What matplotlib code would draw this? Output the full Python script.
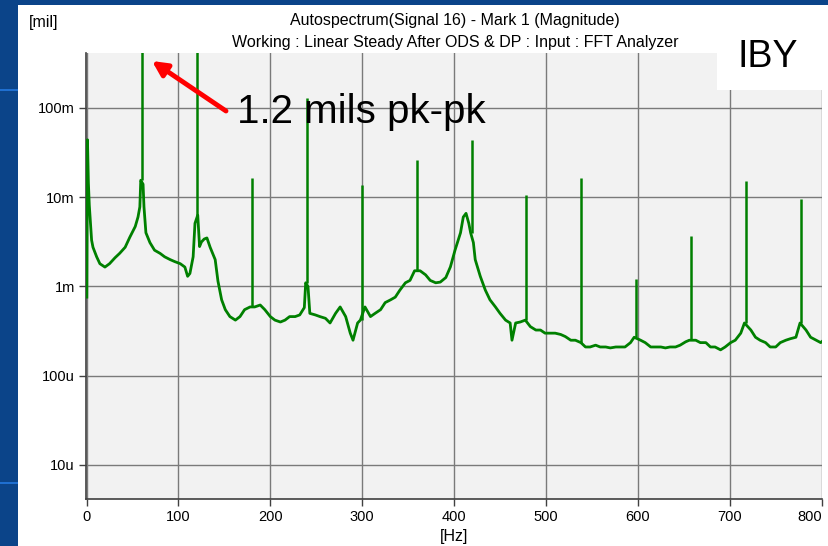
import numpy as np
import matplotlib
matplotlib.use('Agg')
import matplotlib.pyplot as plt
from matplotlib.patches import Rectangle, FancyArrowPatch

plt.rcParams['font.family'] = ['Liberation Sans', 'DejaVu Sans']

# ---- data ----
base_freq = [0.3, 1.0, 2.0, 3, 4, 5.5, 7, 11, 14.5, 20, 25, 31, 36, 42, 47, 53, 56, 58, 59,
             61.5, 62.5, 64.6, 69, 74, 80, 85, 91, 96, 102, 107, 110, 112.5, 116, 118,
             121, 123, 125, 128, 131, 134.5, 140, 143, 147, 151, 156, 162, 167, 172, 178,
             183, 189, 194, 200, 205, 211, 216, 221, 227, 232, 237, 238.5, 241, 243, 249,
             254, 260, 265, 271, 276, 282, 287, 290, 295, 298, 303, 309, 314, 320, 325,
             331, 336, 341, 347, 352, 357, 363, 369, 374, 380, 385, 391, 396, 401, 407,
             410, 413, 416, 418, 421, 423, 428.5, 434, 439, 445, 450, 456, 461, 463, 467,
             472, 477.5, 483, 489, 494, 499, 505, 510, 516, 521, 527, 532, 538, 543, 548,
             554, 559, 565, 570, 576, 581, 586, 592, 596, 603, 608, 614, 619, 625, 630,
             635, 641, 646, 652, 656, 663, 668, 674, 679, 684, 690, 695, 701, 706, 712,
             716, 723, 728, 733, 739, 744, 750, 755, 761, 766, 772, 776.5, 783, 788, 794,
             799, 802]
base_mag = [7.6e-4, 4.4e-2, 1.45e-2, 8.1e-3, 5.6e-3, 3.3e-3, 2.75e-3, 2.15e-3, 1.8e-3, 1.65e-3,
            1.8e-3, 2.1e-3, 2.35e-3, 2.75e-3, 3.55e-3, 4.7e-3, 6.0e-3, 7.8e-3, 1.55e-2,
            1.4e-2, 7.8e-3, 4.0e-3, 3.1e-3, 2.55e-3, 2.35e-3, 2.15e-3, 2.0e-3, 1.9e-3, 1.8e-3,
            1.65e-3, 1.3e-3, 1.4e-3, 2.15e-3, 5.1e-3,
            6.3e-3, 2.8e-3, 3.15e-3, 3.4e-3, 3.5e-3, 2.75e-3, 2.0e-3, 1.15e-3, 7.1e-4, 5.5e-4,
            4.6e-4, 4.2e-4, 4.6e-4, 5.5e-4, 5.9e-4,
            5.9e-4, 6.2e-4, 5.5e-4, 4.6e-4, 4.2e-4, 4.0e-4, 4.2e-4, 4.6e-4, 4.6e-4, 4.8e-4,
            5.8e-4, 1.1e-3, 1.0e-3, 5.0e-4, 4.8e-4,
            4.6e-4, 4.4e-4, 3.9e-4, 5.0e-4, 5.9e-4, 4.6e-4, 3.0e-4, 2.5e-4, 3.9e-4, 4.2e-4,
            5.9e-4, 4.6e-4, 5.0e-4, 5.5e-4, 6.6e-4,
            7.1e-4, 7.6e-4, 9.1e-4, 1.1e-3, 1.17e-3, 1.5e-3, 1.5e-3, 1.35e-3, 1.17e-3, 1.1e-3,
            1.12e-3, 1.26e-3, 1.66e-3, 2.55e-3, 4.0e-3,
            6.0e-3, 6.6e-3, 5.1e-3, 4.0e-3, 3.1e-3, 2.0e-3, 1.3e-3, 9.1e-4, 7.1e-4, 5.9e-4,
            5.0e-4, 4.2e-4, 3.9e-4, 2.5e-4, 3.9e-4,
            4.0e-4, 4.2e-4, 3.55e-4, 3.25e-4, 3.25e-4, 3.0e-4, 3.0e-4, 3.0e-4, 2.9e-4, 2.75e-4,
            2.5e-4, 2.5e-4, 2.35e-4, 2.1e-4, 2.1e-4,
            2.2e-4, 2.1e-4, 2.1e-4, 2.05e-4, 2.1e-4, 2.1e-4, 2.1e-4, 2.35e-4, 2.7e-4, 2.5e-4,
            2.35e-4, 2.1e-4, 2.1e-4, 2.1e-4, 2.05e-4,
            2.1e-4, 2.1e-4, 2.2e-4, 2.4e-4, 2.5e-4, 2.5e-4, 2.35e-4, 2.35e-4, 2.1e-4, 2.1e-4,
            1.95e-4, 2.1e-4, 2.35e-4, 2.5e-4, 3.0e-4,
            3.9e-4, 3.25e-4, 2.7e-4, 2.5e-4, 2.35e-4, 2.1e-4, 2.1e-4, 2.35e-4, 2.5e-4, 2.6e-4,
            2.7e-4, 3.9e-4, 3.25e-4, 2.7e-4, 2.5e-4,
            2.35e-4, 2.5e-4]

peak_freq = [59.85, 119.7, 179.55, 239.4, 299.25, 359.1, 418.95, 478.8, 538.65,
             598.5, 658.35, 718.2, 778.05]
peak_mag = [0.6, 0.45, 0.0165, 0.13, 0.0137, 0.026, 0.044, 0.0107, 0.0165,
            0.0012, 0.0037, 0.0152, 0.0095]
peak_base = [0.0155, 0.006, 5.9e-4, 1.1e-3, 4.2e-4, 1.5e-3, 4.0e-3, 4.2e-4, 2.35e-4,
             2.7e-4, 2.5e-4, 3.9e-4, 3.9e-4]

x_ticks = [0, 100, 200, 300, 400, 500, 600, 700, 800]
y_ticks = [1e-1, 1e-2, 1e-3, 1e-4, 1e-5]
y_tick_labels = ['100m', '10m', '1m', '100u', '10u']

title1 = 'Autospectrum(Signal 16) - Mark 1 (Magnitude)'
title2 = 'Working : Linear Steady After ODS & DP : Input : FFT Analyzer'

# ---- figure ----
W, H = 829, 546
fig = plt.figure(figsize=(W / 100, H / 100), dpi=100)
fig.patch.set_facecolor('#0b4489')

def fx(px):
    return px / W

def fy(py):
    return 1 - py / H

# white panel
fig.patches.append(Rectangle((fx(18), 0), 1 - fx(18), fy(5), transform=fig.transFigure,
                             facecolor='white', edgecolor='none', zorder=-5))
# slide accent lines on the blue margin
for yy in (90, 483):
    fig.patches.append(Rectangle((0, fy(yy + 1)), fx(18), 2 / H, transform=fig.transFigure,
                                 facecolor='#1f6fd0', edgecolor='none', zorder=-4))

ax = fig.add_axes([fx(86), fy(499), fx(822) - fx(86), fy(53) - fy(499)])
ax.set_facecolor('#f2f2f2')
ax.set_yscale('log')
ax.set_xlim(-0.6, 800.4)
ax.set_ylim(10 ** -5.381, 10 ** -0.384)

ax.plot(base_freq, base_mag, color='#008000', lw=2.0, zorder=3)
ax.vlines(peak_freq, peak_base, peak_mag, color='#008000', lw=1.8, zorder=3)

ax.set_xticks(x_ticks)
ax.set_xticklabels([str(t) for t in x_ticks])
ax.get_xticklabels()[-1].set_horizontalalignment('right')
ax.set_yticks(y_ticks)
ax.set_yticklabels(y_tick_labels)
ax.yaxis.set_minor_locator(matplotlib.ticker.NullLocator())
ax.grid(True, color='#7a7a7a', lw=1.0)
ax.set_axisbelow(True)
for s in ('top', 'right'):
    ax.spines[s].set_visible(False)
for s in ('left', 'bottom'):
    ax.spines[s].set_color('#404040')
    ax.spines[s].set_linewidth(1.2)
ax.tick_params(axis='both', labelsize=10.5, length=5, width=1, color='#404040',
               labelcolor='black', pad=3)

# titles and units
fig.text(fx(455), fy(20), title1, ha='center', va='center', fontsize=11.5)
fig.text(fx(455), fy(43), title2, ha='center', va='center', fontsize=11.5)
fig.text(fx(29), fy(22), '[mil]', ha='left', va='center', fontsize=11.5)
fig.text(fx(454), fy(537), '[Hz]', ha='center', va='center', fontsize=11.5)

# IBY label box
fig.patches.append(Rectangle((fx(717), fy(90)), fx(822) - fx(717), fy(40) - fy(90),
                             transform=fig.transFigure, facecolor='white',
                             edgecolor='none', zorder=5))
fig.text(fx(768), fy(57), 'IBY', ha='center', va='center', fontsize=27, zorder=6)

# annotation
fig.text(fx(237), fy(123), '1.2 mils pk-pk', ha='left', va='baseline', fontsize=29, zorder=6)
arrow = FancyArrowPatch((fx(226), fy(111)), (fx(152), fy(61)), transform=fig.transFigure,
                        arrowstyle='-|>', mutation_scale=22, lw=3.5, color='#ff0000',
                        shrinkA=0, shrinkB=0, zorder=6)
fig.patches.append(arrow)

fig.savefig('out.png', dpi=100, facecolor=fig.get_facecolor())
